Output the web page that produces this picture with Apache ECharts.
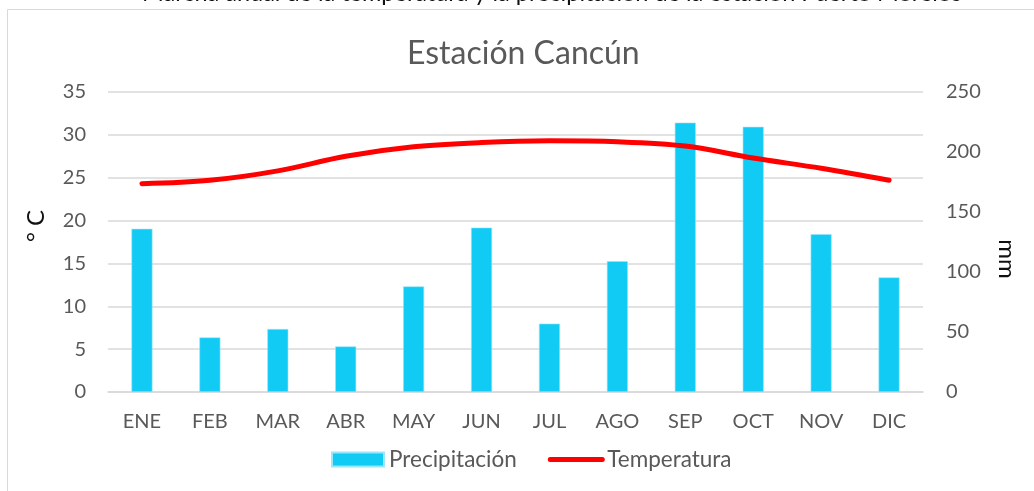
<!DOCTYPE html>
<html>
<head>
<meta charset="utf-8">
<script src="https://cdn.jsdelivr.net/npm/echarts@6/dist/echarts.min.js"></script>
<style>
  html, body { margin: 0; padding: 0; background: #fff; }
  #chart { width: 1034px; height: 491px; }
</style>
</head>
<body>
<div id="chart"></div>
<script>
// meses
var months = ['ENE', 'FEB', 'MAR', 'ABR', 'MAY', 'JUN', 'JUL', 'AGO', 'SEP', 'OCT', 'NOV', 'DIC'];
// precipitación (mm), eje derecho
var precipitacion = [136, 45.5, 52.5, 38, 88, 137, 57, 109, 224.5, 221, 131.5, 95.5];
// temperatura (°C), eje izquierdo
var temperatura = [24.3, 24.7, 25.8, 27.5, 28.6, 29.1, 29.3, 29.2, 28.7, 27.3, 26.1, 24.7];

var fontFam = 'Lato, "Liberation Sans", sans-serif';

var myChart = echarts.init(document.getElementById('chart'));

var option = {
    animation: false,
    textStyle: { fontFamily: fontFam },
    graphic: [{
        type: 'rect',
        shape: { x: 7.5, y: 9.5, width: 1040, height: 500 },
        style: { fill: 'none', stroke: '#d9d9d9', lineWidth: 1 },
        z: -1
    }],
    title: [{
        text: 'Marcha anual de la temperatura y la precipitación de la estación Puerto Morelos',
        left: 137,
        top: -24,
        textStyle: { fontFamily: fontFam, fontSize: 23.5, fontWeight: 'normal', color: '#111', lineHeight: 24 }
    }, {
        text: 'Estación Cancún',
        left: 402,
        top: 33,
        textStyle: { fontFamily: fontFam, fontSize: 32, fontWeight: 'normal', color: '#595959' }
    }],
    legend: {
        top: 443,
        left: 326,
        itemWidth: 52,
        itemHeight: 14,
        itemGap: 31,
        textStyle: { fontFamily: fontFam, fontSize: 22.5, color: '#595959' },
        data: [
            { name: 'Precipitación', icon: 'rect' },
            {
                name: 'Temperatura',
                itemStyle: { opacity: 0, color: 'rgba(0,0,0,0)', borderWidth: 0 },
                lineStyle: { width: 5, cap: 'round', color: '#ff0000' }
            }
        ]
    },
    grid: { left: 108, right: 111, top: 92, bottom: 99, outerBoundsMode: 'none' },
    xAxis: {
        type: 'category',
        data: months,
        axisLine: { lineStyle: { color: '#d9d9d9', width: 1.5 } },
        axisTick: { show: false },
        axisLabel: { color: '#595959', fontSize: 20, margin: 20, fontFamily: fontFam }
    },
    yAxis: [{
        type: 'value',
        min: 0, max: 35, interval: 5,
        name: '° C',
        nameLocation: 'middle',
        nameGap: 60,
        nameTextStyle: { color: '#111', fontSize: 24, fontFamily: fontFam, padding: [0, 0, 0, 32] },
        axisLine: { show: false },
        axisTick: { show: false },
        axisLabel: { color: '#595959', fontSize: 20, margin: 22, fontFamily: fontFam },
        splitLine: { lineStyle: { color: '#d9d9d9', width: 1.5 } }
    }, {
        type: 'value',
        min: 0, max: 250, interval: 50,
        name: 'mm',
        nameLocation: 'middle',
        nameRotate: -90,
        nameGap: 72,
        nameTextStyle: { color: '#111', fontSize: 24, fontFamily: fontFam, padding: [0, 0, 0, 34] },
        axisLine: { show: false },
        axisTick: { show: false },
        axisLabel: { color: '#595959', fontSize: 20, margin: 23, fontFamily: fontFam },
        splitLine: { show: false }
    }],
    series: [{
        name: 'Precipitación',
        type: 'bar',
        yAxisIndex: 1,
        barWidth: 21,
        data: precipitacion,
        itemStyle: { color: '#11cbf5', borderColor: '#9be6fa', borderWidth: 0.6 }
    }, {
        name: 'Temperatura',
        type: 'line',
        yAxisIndex: 0,
        data: temperatura,
        smooth: 0.35,
        symbol: 'none',
        lineStyle: { color: '#ff0000', width: 5, cap: 'round' },
        itemStyle: { color: '#ff0000' }
    }]
};

myChart.setOption(option);
</script>
</body>
</html>
